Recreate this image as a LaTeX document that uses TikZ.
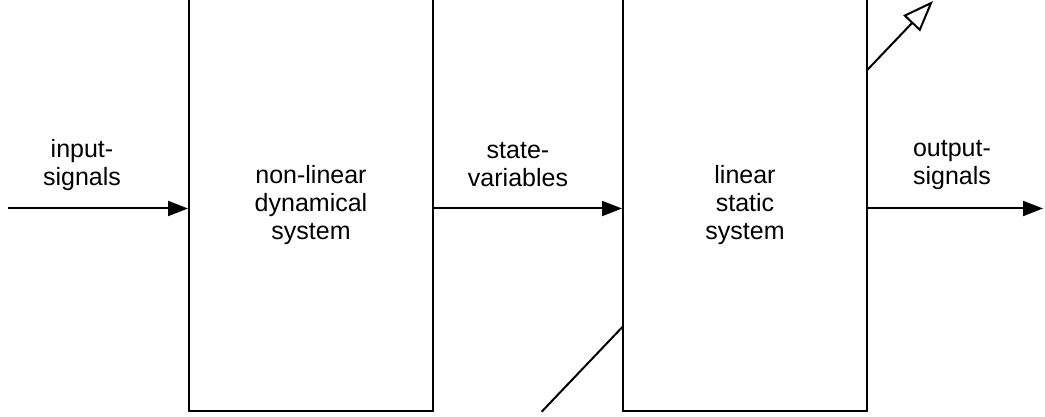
\documentclass[tikz,border=0pt]{standalone}
\usepackage{fontspec}
\setmainfont{Liberation Sans}
\usetikzlibrary{arrows.meta}
\begin{document}
\begin{tikzpicture}[x=1pt,y=-1pt,
  box/.style={draw,line width=2pt,fill=white,minimum width=244pt,minimum height=412pt,inner sep=0pt,align=center,font=\fontsize{25}{28}\selectfont},
  lbl/.style={align=center,font=\fontsize{25}{28}\selectfont,inner sep=0pt},
  flow/.style={line width=2pt,-{Triangle[length=20pt,width=15pt]}},
  tune/.style={line width=2pt,-{Triangle[open,length=31pt,width=23pt]}},
]
\useasboundingbox (0,0) rectangle (1045,417);
\coordinate (in) at (8,208.5);
\coordinate (out) at (1043,208.5);
\coordinate (d0) at (541.7,411.7);
\coordinate (d1) at (933,1);
\draw[tune] (d0) -- (d1);
\node[box] (nl) at (311,205) {non-linear\\dynamical\\system};
\node[box] (ls) at (745,205) {linear\\static\\system};
\draw[flow] (in) -- (nl.west |- in);
\draw[flow] (nl.east |- in) -- (ls.west |- in);
\draw[flow] (ls.east |- in) -- (out);
\node[lbl] (inl) at (82,165) {input-\\signals};
\node[lbl] (stl) at (518,165) {state-\\variables};
\node[lbl] (outl) at (952,165) {output-\\signals};
\end{tikzpicture}
\end{document}
